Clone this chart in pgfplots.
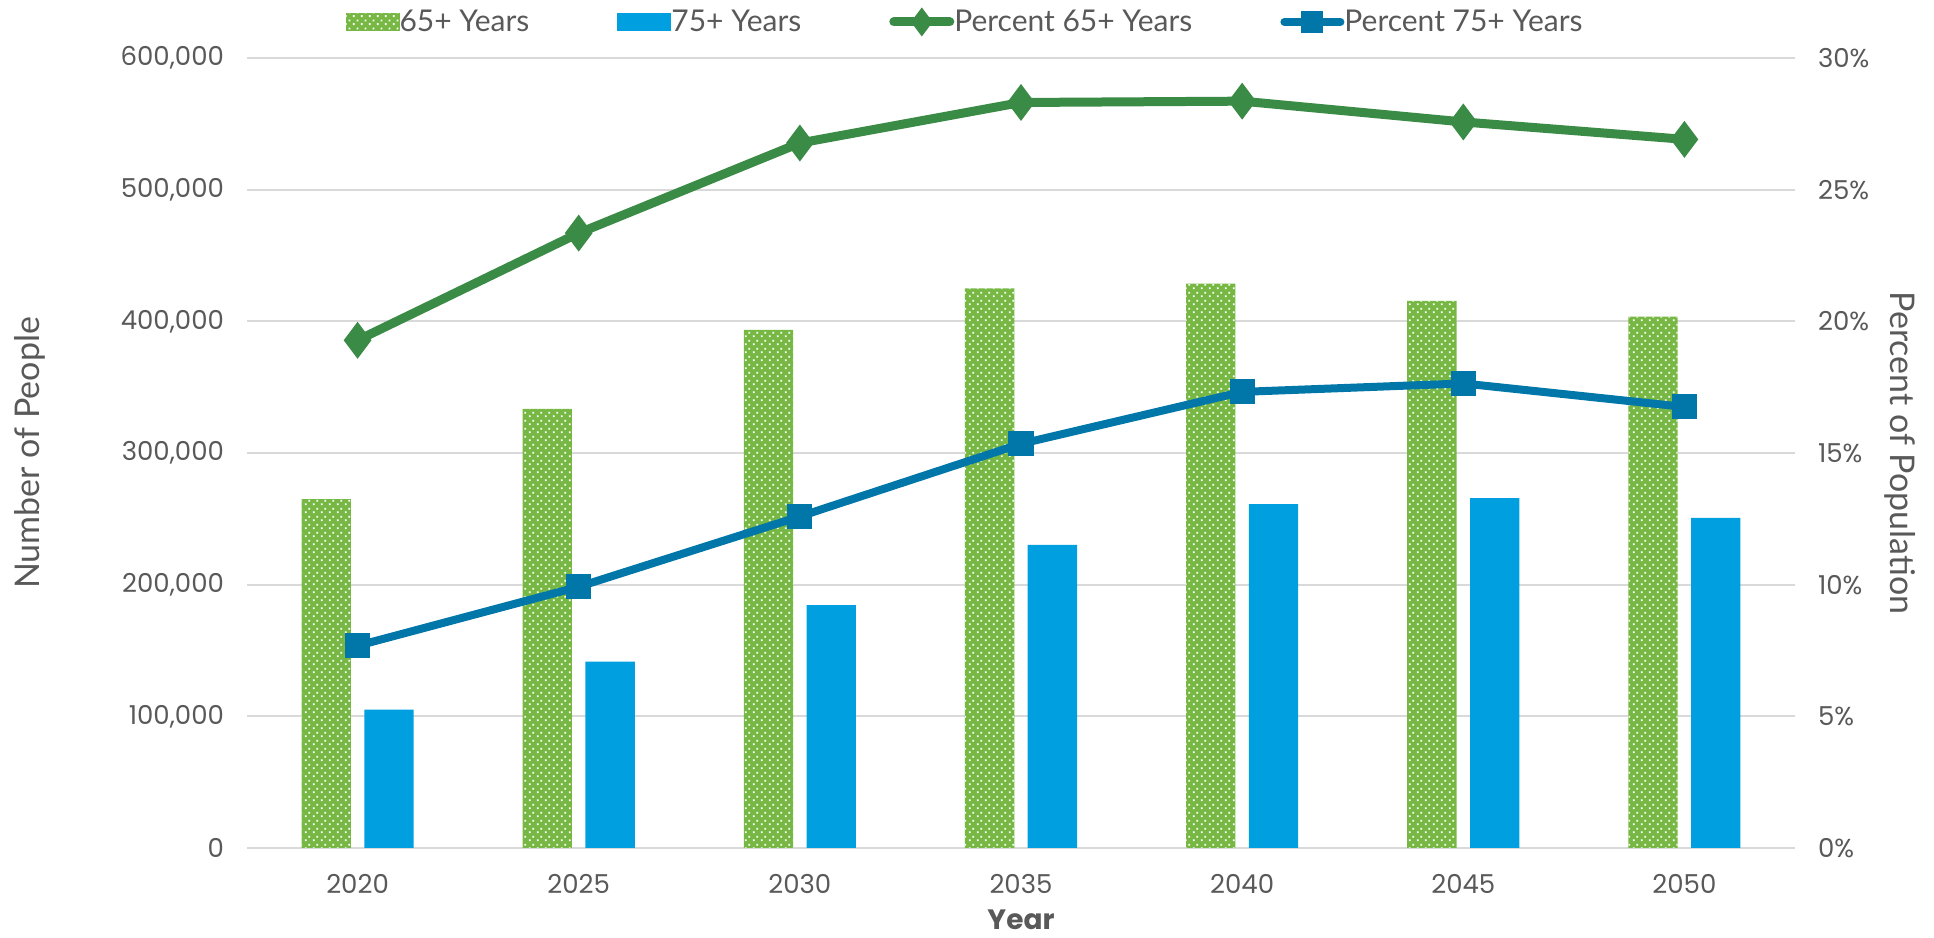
\documentclass[border=0pt]{standalone}
\usepackage{fontspec}
\setmainfont{Poppins}
\newfontfamily\labelfont{Lato}
\usepackage{pgfplots}
\pgfplotsset{compat=1.18}
\usetikzlibrary{patterns}
\definecolor{gbar}{HTML}{76B843}
\definecolor{bbar}{HTML}{009FDF}
\definecolor{gline}{HTML}{3A8B45}
\definecolor{bline}{HTML}{0077A8}
\definecolor{txt}{HTML}{595959}
\definecolor{gridc}{HTML}{D9D9D9}
\pgfdeclarepatternformonly{mydots}{\pgfpointorigin}{\pgfpoint{4pt}{4pt}}{\pgfpoint{4pt}{4pt}}{%
  \pgfpathrectangle{\pgfpoint{0.5pt}{0.5pt}}{\pgfpoint{1pt}{1pt}}%
  \pgfpathrectangle{\pgfpoint{2.5pt}{2.5pt}}{\pgfpoint{1pt}{1pt}}%
  \pgfusepath{fill}}
\tikzset{greenbar/.style={fill=gbar, draw=none, postaction={pattern=mydots, pattern color=white}}}
\pgfplotsset{
  barleg/.style={legend image code/.code={\fill[##1, draw=none] (0pt,-4.5pt) rectangle (27pt,4.5pt);}},
  lineleg/.style={legend image code/.code={\draw[mark repeat=2,mark phase=2,##1, line cap=round, mark size=3.5pt] plot coordinates {(0pt,0pt) (14pt,0pt) (28pt,0pt)};}},
}
\begin{document}
\begin{tikzpicture}
\begin{axis}[
  scale only axis, width=774pt, height=395pt,
  xmin=-0.5, xmax=6.5, ymin=0, ymax=600000,
  xtick={0,1,2,3,4,5,6}, xticklabels={2020,2025,2030,2035,2040,2045,2050},
  ytick={0,100000,200000,300000,400000,500000,600000},
  scaled y ticks=false,
  yticklabel={\pgfmathprintnumber[fixed,precision=0,1000 sep={,},assume math mode=true]{\tick}},
  axis line style={draw=none},
  major tick length=0pt,
  ymajorgrids, grid style={gridc, line width=1pt},
  ticklabel style={font=\fontsize{13}{15}\selectfont, text=txt},
  yticklabel style={xshift=-8pt},
  xticklabel style={yshift=-9.5pt},
  xlabel={Year}, ylabel={Number of People},
  every axis x label/.style={at={(rel axis cs:0.5,-0.0915)}, anchor=center, inner sep=0pt, font=\fontsize{14}{16}\selectfont\bfseries, text=txt},
  every axis y label/.style={at={(rel axis cs:-0.1402,0.5)}, rotate=90, anchor=center, font=\labelfont\fontsize{17}{19}\selectfont, text=txt},
]
\coordinate (bl) at (rel axis cs:0,0);
\coordinate (tr) at (rel axis cs:1,1);
\addplot[greenbar, ybar, bar width=0.223, bar shift=-0.142] coordinates {
  (0,265000) (1,333500) (2,393500) (3,425000) (4,428700) (5,415600) (6,403500)};
\addplot[fill=bbar, draw=none, ybar, bar width=0.223, bar shift=0.142] coordinates {
  (0,105000) (1,141500) (2,184500) (3,230300) (4,261100) (5,265800) (6,250800)};
\end{axis}
\begin{axis}[
  scale only axis, width=774pt, height=395pt,
  xmin=-0.5, xmax=6.5, ymin=0, ymax=30,
  axis x line=none, axis y line*=right,
  axis line style={draw=none},
  major tick length=0pt,
  ytick={0,5,10,15,20,25,30},
  yticklabel={\pgfmathprintnumber[fixed,precision=0,assume math mode=true]{\tick}\%},
  ticklabel style={font=\fontsize{13}{15}\selectfont, text=txt},
  yticklabel style={xshift=8pt},
  ylabel={Percent of Population},
  every axis y label/.style={at={(rel axis cs:1.0678,0.5)}, rotate=-90, anchor=center, font=\labelfont\fontsize{17}{19}\selectfont, text=txt},
  legend columns=4,
  legend style={draw=none, fill=none, at={(rel axis cs:0.4645,1.0456)}, anchor=center,
    font=\labelfont\fontsize{15}{17}\selectfont, text=txt,
    /tikz/every even column/.append style={column sep=42pt},
    /tikz/every odd column/.append style={column sep=-2pt}},
]
\addlegendimage{greenbar, barleg}
\addlegendentry{65+ Years}
\addlegendimage{fill=bbar, barleg}
\addlegendentry{75+ Years}
\addplot[gline, line width=4.5pt, mark=diamond*, mark size=5.5pt, mark options={solid}, lineleg]
  coordinates {(0,19.28) (1,23.35) (2,26.77) (3,28.31) (4,28.36) (5,27.57) (6,26.91)};
\addlegendentry{Percent 65+ Years}
\addplot[bline, line width=4pt, mark=square*, mark size=4.3pt, mark options={solid}, lineleg]
  coordinates {(0,7.68) (1,9.92) (2,12.59) (3,15.35) (4,17.32) (5,17.64) (6,16.75)};
\addlegendentry{Percent 75+ Years}
\end{axis}
\pgfresetboundingbox
\path (bl) ++(-123.5pt,-45pt) coordinate (A);
\path (tr) ++(69.5pt,29pt) coordinate (B);
\path (A) rectangle (B);
\end{tikzpicture}
\end{document}
